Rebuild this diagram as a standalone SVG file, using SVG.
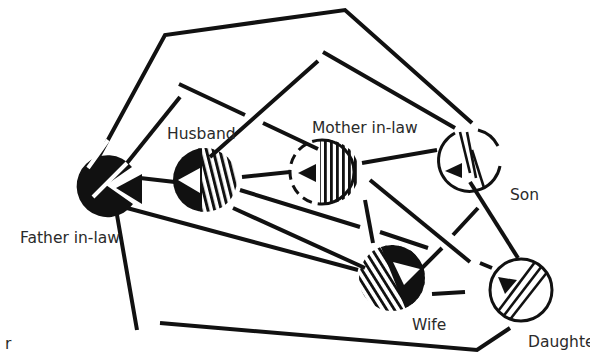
<svg xmlns="http://www.w3.org/2000/svg" width="590" height="354" viewBox="0 0 590 354">
<style>
.c{stroke:#111;stroke-width:4;fill:none}
.lbl{font-family:"DejaVu Sans","Liberation Sans",sans-serif;font-size:15.5px;fill:#2a2a2a}
.ring{stroke:#111;stroke-width:3;fill:none}
.st{stroke:#111;stroke-width:2.6}
</style>
<defs>
<pattern id="stripeV" width="6" height="10" patternUnits="userSpaceOnUse"><rect x="0" y="0" width="2.8" height="10" fill="#111"/></pattern>
<pattern id="stripeH" width="6.5" height="10" patternUnits="userSpaceOnUse" patternTransform="rotate(-14)"><rect x="0" y="0" width="3" height="10" fill="#111"/></pattern>
<pattern id="stripeW" width="6.5" height="10" patternUnits="userSpaceOnUse" patternTransform="rotate(-32)"><rect x="0" y="0" width="2.8" height="10" fill="#111"/></pattern>
<clipPath id="cpH"><circle cx="205" cy="180" r="32"/></clipPath>
<clipPath id="cpM"><circle cx="327" cy="172" r="32"/></clipPath>
<clipPath id="cpS"><circle cx="470" cy="160" r="31"/></clipPath>
<clipPath id="cpW"><circle cx="392" cy="278" r="33"/></clipPath>
<clipPath id="cpD"><circle cx="521" cy="290" r="31"/></clipPath>
</defs>
<rect width="590" height="354" fill="#fff"/>

<g id="connectors">
<path class="c" d="M97,160 L165,35 L345,10 L472,123"/>
<path class="c" d="M127,163 L180,97"/>
<path class="c" d="M179,84 L245,115 M263,123 L318,149"/>
<path class="c" d="M210,157 L318,61 M323,52 L455,128"/>
<path class="c" d="M140,178 L175,182"/>
<path class="c" d="M242,177 L290,172"/>
<path class="c" d="M362,163 L437,150"/>
<path class="c" d="M127,208 L358,270"/>
<path class="c" d="M233,208 L365,268"/>
<path class="c" d="M240,190 L360,227 M380,232 L428,248 M480,263 L492,268"/>
<path class="c" d="M365,200 L373,243"/>
<path class="c" d="M370,180 L470,262"/>
<path class="c" d="M478,208 L453,235 M442,248 L420,270"/>
<path class="c" d="M470,182 L518,258"/>
<path class="c" d="M432,294 L465,292"/>
<path class="c" d="M117,215 L137,330 M160,323 L477,350 L510,328"/>
</g>

<g id="father-in-law">
<path d="M106,185 L132,167 A31,31 0 1,0 133,204 Z" fill="#111"/>
<polygon points="116,188 142,174 142,204" fill="#111"/>
<path d="M127,163 L93,197 M108,140 L88,168" stroke="#fff" stroke-width="4"/>
<text class="lbl" x="20" y="243">Father in-law</text>
</g>

<g id="husband">
<g clip-path="url(#cpH)">
<rect x="170" y="145" width="32" height="70" fill="#111"/>
<rect x="198" y="145" width="40" height="70" fill="url(#stripeH)"/>
<polygon points="200,168 178,180 200,193" fill="#fff"/>
</g>
<text class="lbl" x="167" y="139">Husband</text>
</g>

<g id="mother-in-law">
<path d="M322,140 A32,32 0 0,0 322,204" class="ring" stroke-dasharray="10,6"/>
<g clip-path="url(#cpM)"><rect x="320" y="138" width="42" height="70" fill="url(#stripeV)"/></g>
<path d="M322,140 A32,32 0 0,1 322,204" class="ring" stroke-width="2"/>
<polygon points="298,173 316,164 316,182" fill="#111"/>
<text class="lbl" x="312" y="133">Mother in-law</text>
</g>

<g id="son">
<path d="M455,133 A31,31 0 1,0 500,166 M498,146 A31,31 0 0,0 478,130" class="ring"/>
<g clip-path="url(#cpS)">
<line class="st" x1="460" y1="132" x2="470" y2="173"/>
<line class="st" x1="467" y1="132" x2="476" y2="178"/>
<line class="st" x1="472" y1="150" x2="486" y2="194"/>
</g>
<polygon points="445,171 462,163 462,178" fill="#111"/>
<text class="lbl" x="510" y="200" font-size="12">Son</text>
</g>

<g id="wife">
<g clip-path="url(#cpW)">
<rect x="355" y="240" width="80" height="80" fill="url(#stripeW)"/>
<polygon points="378,240 430,240 430,320 410,320" fill="#111"/>
<polygon points="393,262 420,269 404,285" fill="#fff"/>
</g>
<text class="lbl" x="412" y="330">Wife</text>
</g>

<g id="daughter">
<circle cx="521" cy="290" r="31" class="ring"/>
<g clip-path="url(#cpD)">
<line class="st" x1="538" y1="258" x2="496" y2="314"/>
<line class="st" x1="545" y1="262" x2="502" y2="318"/>
<line class="st" x1="552" y1="266" x2="508" y2="322"/>
</g>
<polygon points="498,277 517,280 505,294" fill="#111"/>
<text class="lbl" x="528" y="347">Daughter</text>
<text class="lbl" x="5" y="349">r</text>
</g>
</svg>
